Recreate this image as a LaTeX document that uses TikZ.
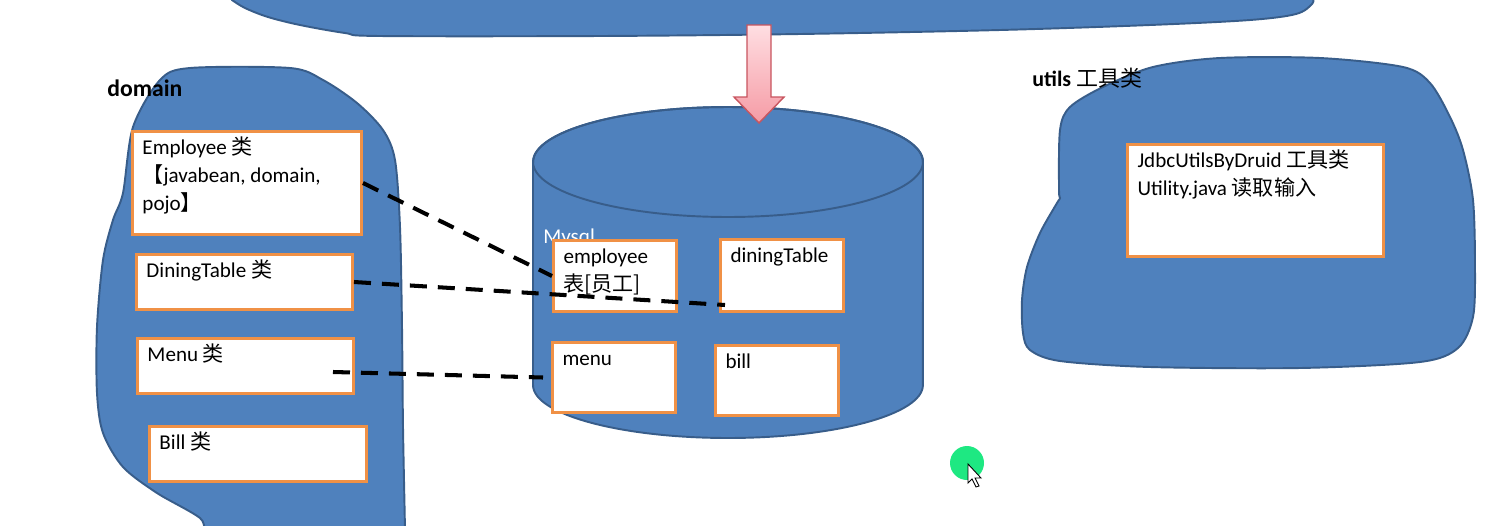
\documentclass[tikz,border=0pt]{standalone}
\usepackage{fontspec}
\setmainfont{Carlito}
\newfontfamily\cjk{Noto Sans CJK SC}
\newcommand{\zh}[1]{{\cjk #1}}
\usetikzlibrary{positioning,calc}
\definecolor{AzulZona}{RGB}{79,129,189}
\definecolor{AzulBorde}{RGB}{56,93,138}
\definecolor{Naranja}{RGB}{240,145,70}
\definecolor{RosaClaro}{RGB}{255,222,226}
\definecolor{Rosa}{RGB}{245,155,165}
\definecolor{RosaBorde}{RGB}{200,85,95}
\definecolor{VerdeCursor}{RGB}{30,232,130}
\tikzset{
  zona/.style={draw=AzulBorde, line width=1.1pt, fill=AzulZona},
  % ---- cajas con texto arriba a la izquierda, medidas en px ----
  clasebox/.style 2 args={draw=Naranja, line width=1.7pt, fill=white, anchor=north west,
    inner xsep=0.2cm, inner ysep=0.1cm, font=\fontsize{12}{15.8}\selectfont,
    execute at begin node={\begin{minipage}[c][\dimexpr0.02cm*#2-0.2cm\relax][t]{\dimexpr0.02cm*#1-0.4cm\relax}\raggedright\rule{0pt}{10.5pt}},
    execute at end node={\end{minipage}}},
  rotulo/.style={anchor=west, inner sep=0pt, font=\fontsize{#1}{15}\selectfont\bfseries},
  rotulo/.default=13.5,
  enlace/.style={black, line width=2.3pt, dash pattern=on 0.34cm off 0.22cm},
  flechaabajo/.style={draw=RosaBorde, line width=0.8pt, top color=RosaClaro, bottom color=Rosa},
}
\begin{document}
\begin{tikzpicture}[x=0.02cm, y=-0.02cm]
  \useasboundingbox (0,0) rectangle (1493,525);
  \clip (0,0) rectangle (1493,525);
  % zonas
  \draw[zona] (231,-20) -- plot[smooth, tension=0.55] coordinates {(232,0) (245,8) (268,17) (300,25)
    (345,33) (380,36) (600,36) (800,34) (1000,30) (1150,25) (1250,20) (1296,14) (1312,4) (1313,-2)}
    -- (1313,-20) -- cycle;
  \draw[zona] plot[smooth cycle, tension=0.5] coordinates {(160,80) (190,68) (290,68) (323,80)
    (357,103) (383,130) (395,160) (400,227) (402,327) (403,427) (405,530) (405,545) (225,545)
    (200,518) (157,493) (123,467) (103,433) (97,393) (97,327) (103,260) (113,220) (123,193) (133,127)};
  \draw[zona] plot[smooth cycle, tension=0.5] coordinates {(1070,107) (1103,87) (1153,67) (1220,58)
    (1320,58) (1403,67) (1430,83) (1450,117) (1463,150) (1473,200) (1475,267) (1473,317)
    (1458,348) (1420,362) (1300,368) (1150,367) (1060,361) (1030,350) (1023,333) (1022,300)
    (1027,267) (1040,233) (1057,203) (1060,198) (1059,190) (1060,130)};
  % cilindro Mysql
  \draw[zona] (533,162) -- (533,385) arc[start angle=180, end angle=360, x radius=3.9cm, y radius=1.06cm]
    -- (923,162) arc[start angle=0, end angle=180, x radius=3.9cm, y radius=1.1cm] -- cycle;
  \draw[draw=AzulBorde, line width=1.1pt] (728,162) ellipse[x radius=3.9cm, y radius=1.1cm];
  \node[anchor=west, inner sep=0pt, text=white, font=\fontsize{12}{14}\selectfont] (mysql) at (543,238) {Mysql};
  % flecha
  \draw[flechaabajo] (747,25) -- (771,25) -- (771,97) -- (784,97) -- (759,123) -- (734,97) -- (747,97) -- cycle;
  % rotulos
  \node[rotulo] (domain) at (107,88) {domain};
  \node[rotulo=12.5] (utils) at (1032,78) {utils \zh{\mdseries 工具类}};
  % clases
  \node[clasebox={229}{103}] (emp) at (131,130) {Employee \zh{类}\\\zh{【}javabean, domain,\\pojo\zh{】}};
  \node[clasebox={216}{55}] (din) at (135,253) {DiningTable \zh{类}};
  \node[clasebox={216}{55}] (menu) at (136,337) {Menu \zh{类}};
  \node[clasebox={217}{55}] (bill) at (148,425) {Bill \zh{类}};
  % tablas
  \node[clasebox={123}{71}] (tEmp) at (552,239) {employee\\\zh{表[员工]}};
  \node[clasebox={123}{72}] (tDin) at (719,238) {diningTable};
  \node[clasebox={123}{70}] (tMenu) at (551,341) {menu};
  \node[clasebox={123}{70}] (tBill) at (714,344) {bill};
  % utils
  \node[clasebox={256}{112}] (jdbc) at (1126,143) {JdbcUtilsByDruid \zh{工具类}\\Utility.java \zh{读取输入}};
  % enlaces
  \coordinate (finDin) at ($(tDin.south west)+(6,-8)$);
  \coordinate (iniMenu) at ($(menu.east)+(-22,6)$);
  \coordinate (finMenu) at ($(tMenu.west)+(-8,0)$);
  \draw[enlace] (emp.east) -- (tEmp.west);
  \draw[enlace] (din.east) -- (finDin);
  \draw[enlace] (iniMenu) -- (finMenu);
  % puntero
  \fill[VerdeCursor] (967,463) circle[radius=0.34cm];
  \draw[fill=white, line width=0.5pt] (968,464) -- (968,483) -- (972,479) -- (976,487) -- (979,486)
    -- (975,478) -- (981,478) -- cycle;
\end{tikzpicture}
\end{document}
